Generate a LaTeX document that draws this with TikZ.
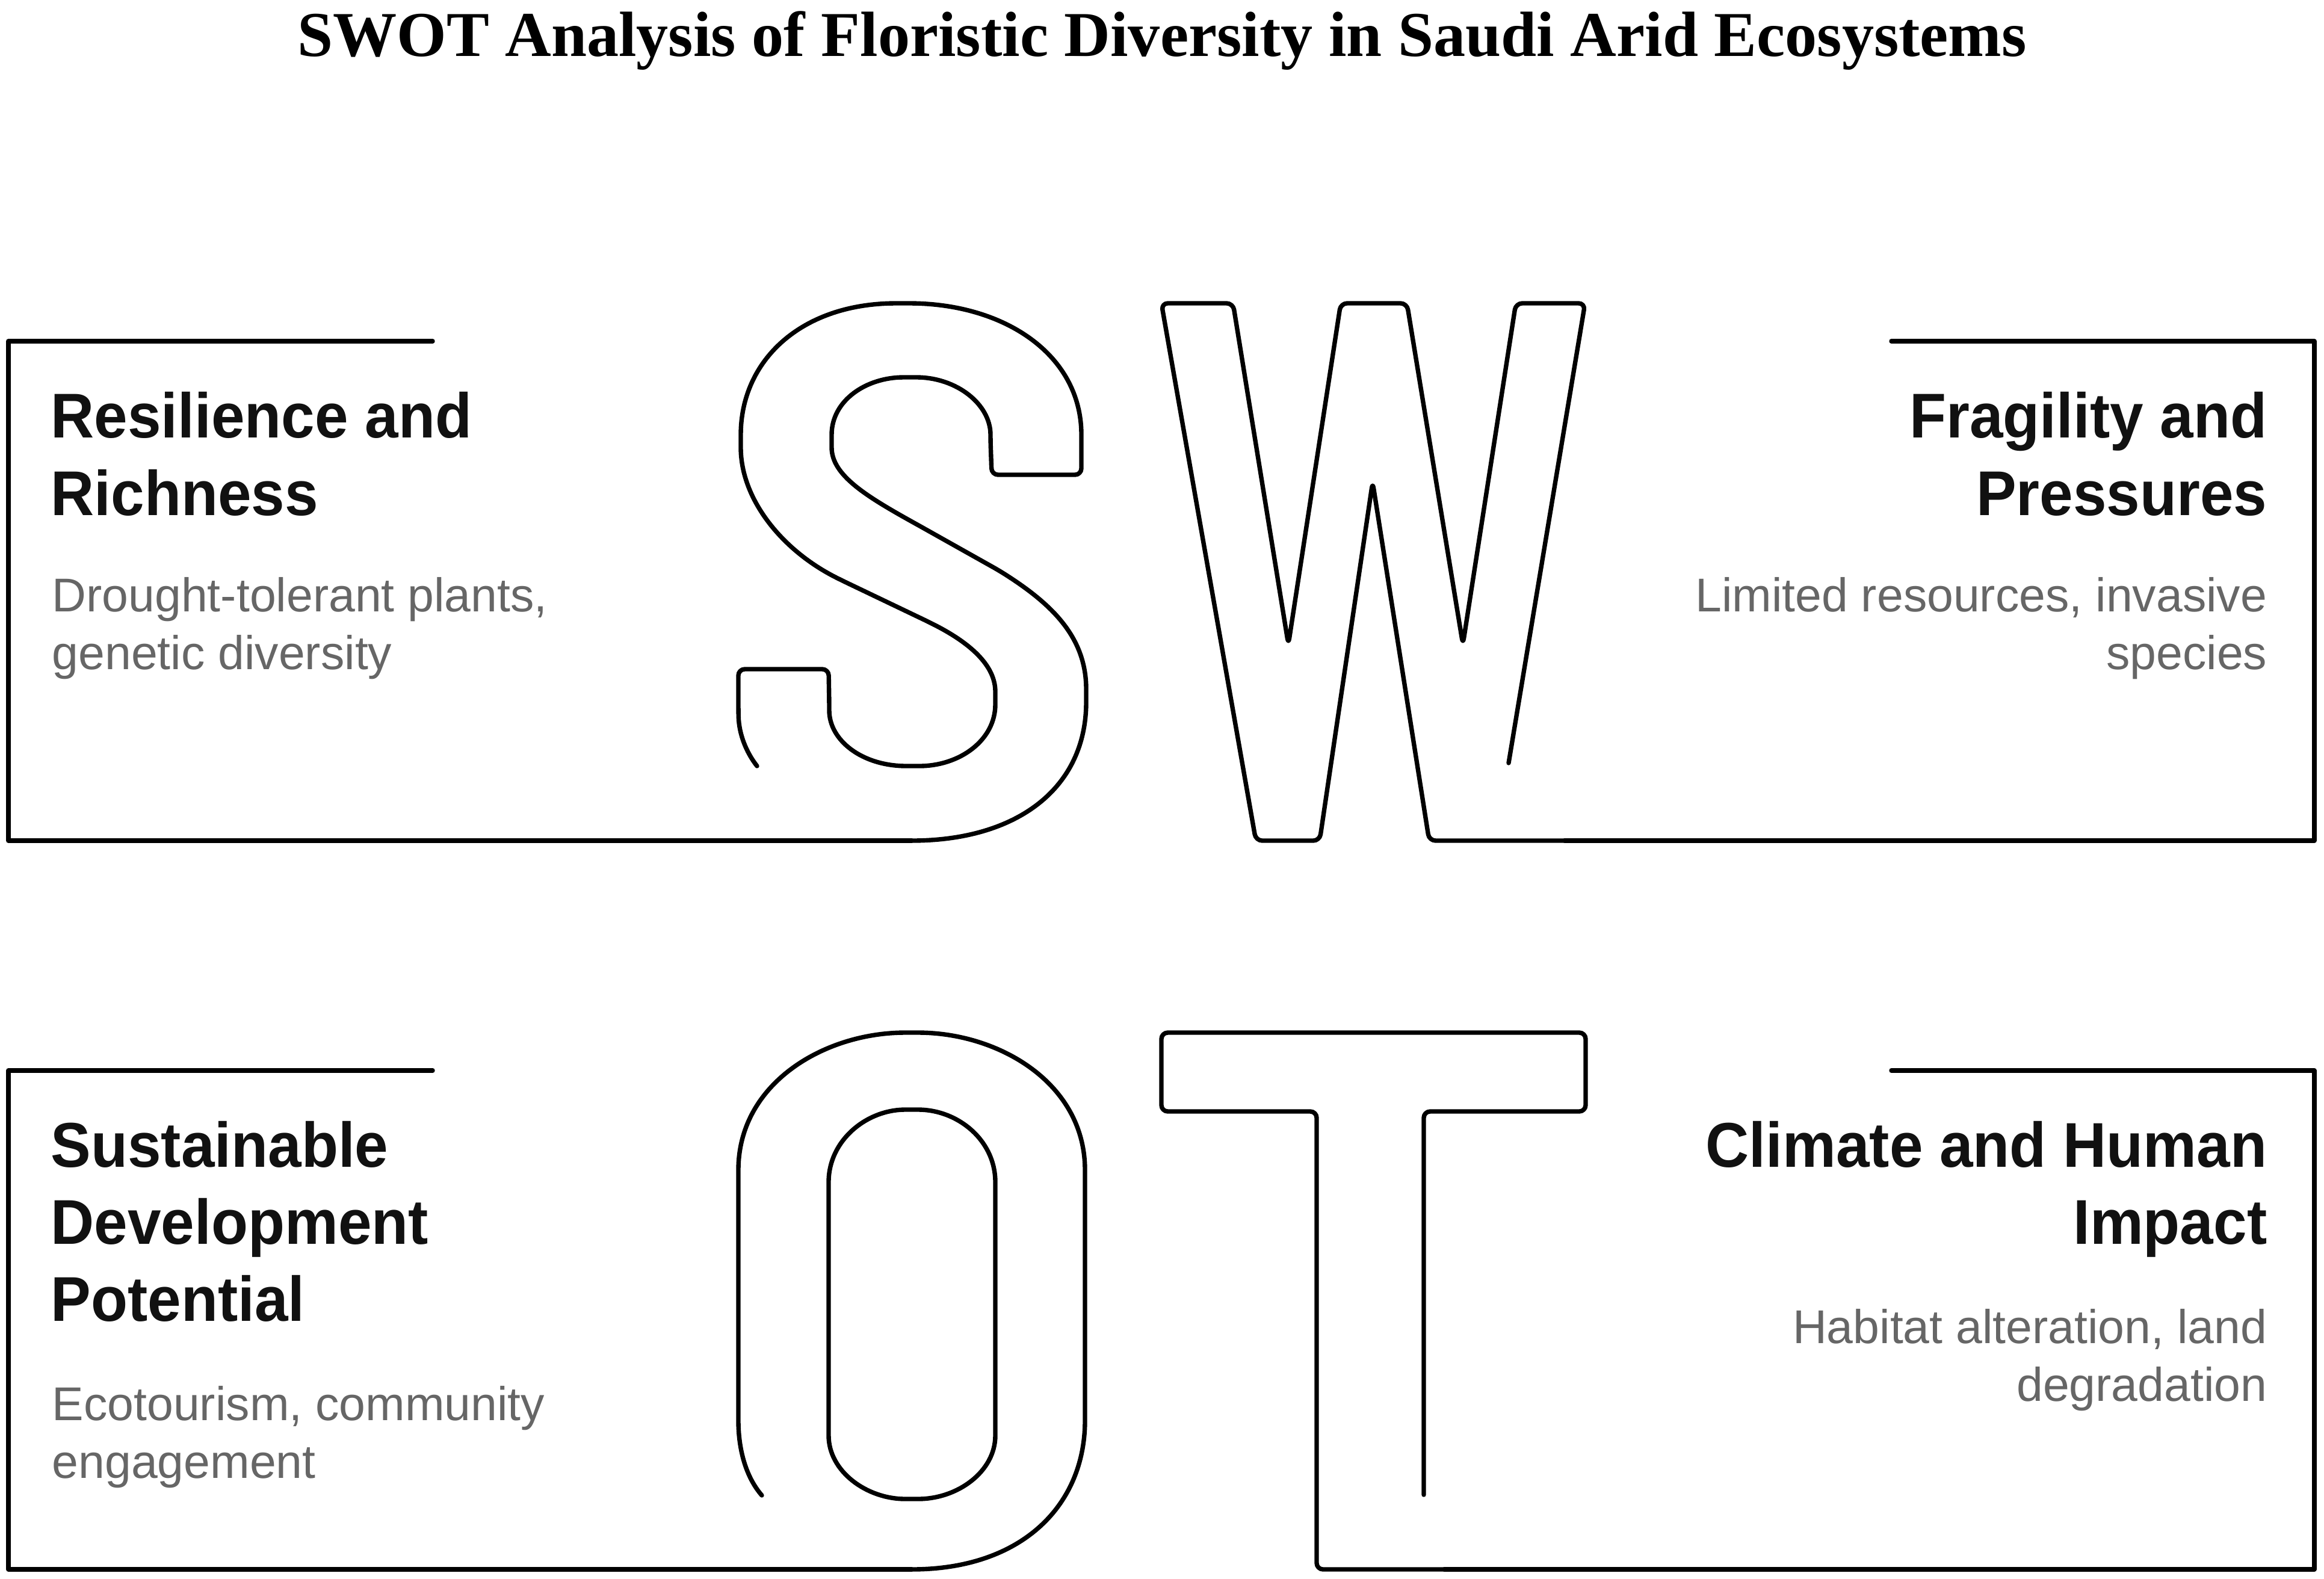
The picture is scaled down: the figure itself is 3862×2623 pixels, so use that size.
\documentclass[tikz,border=0pt]{standalone}
\usepackage{fontspec}
\setmainfont{Liberation Sans}
\newfontfamily\headfont[FakeStretch=0.95]{Liberation Sans}
\newfontfamily\descfont{Liberation Sans}
\newfontfamily\titlefont{Liberation Serif}
\definecolor{descgray}{HTML}{666666}
\definecolor{headblack}{HTML}{111111}
\begin{document}
\begin{tikzpicture}[x=0.01cm,y=-0.01cm,
  outline/.style={line width=2.1pt, line join=round, line cap=round},
  letter/.style={outline, rounded corners=3pt},
  head/.style={font=\headfont\bfseries\fontsize{29.9pt}{36pt}\selectfont, inner sep=0pt, text=headblack},
  desc/.style={font=\descfont\fontsize{22.4pt}{27pt}\selectfont, inner sep=0pt, text=descgray},
  ttl/.style={font=\titlefont\bfseries\fontsize{30.2pt}{36pt}\selectfont, inner sep=0pt}]
\useasboundingbox (0,0) rectangle (3862,2623);

% title
\node[ttl, anchor=base] (title) at (1931,93) {SWOT Analysis of Floristic Diversity in Saudi Arid Ecosystems};

% ---------- S quadrant ----------
\draw[outline] (719,567) -- (14,567) -- (14,1397) -- (1515,1397);
\draw[letter] (1515,1397) .. controls (1690,1397) and (1805,1310) .. (1805,1156)
  .. controls (1805,1060) and (1750,1005) .. (1660,948)
  -- (1530,875)
  .. controls (1440,825) and (1382,790) .. (1382,733)
  .. controls (1382,665) and (1440,627) .. (1512,627)
  .. controls (1590,627) and (1646,672) .. (1646,733)
  -- (1648,789) -- (1797,789) -- (1797,733)
  .. controls (1797,590) and (1670,504) .. (1500,504)
  .. controls (1330,504) and (1231,600) .. (1231,733)
  .. controls (1231,830) and (1300,915) .. (1400,965)
  -- (1540,1032)
  .. controls (1620,1072) and (1654,1110) .. (1654,1160)
  .. controls (1654,1230) and (1595,1273) .. (1517,1273)
  .. controls (1432,1273) and (1378,1230) .. (1378,1170)
  -- (1377,1112) -- (1227,1112) -- (1227,1180)
  .. controls (1228,1220) and (1240,1250) .. (1258,1273);

% ---------- W quadrant ----------
\draw[letter] (2507,1268) -- (2634,504) -- (2519,504) -- (2431,1071) -- (2338,504)
  -- (2228,504) -- (2141,1071) -- (2049,504) -- (1930,504) -- (2087,1397)
  -- (2193,1397) -- (2281,801) -- (2375,1397) -- (2600,1397);
\draw[outline] (2600,1397) -- (3846,1397) -- (3846,567) -- (3143,567);

% ---------- O quadrant ----------
\draw[outline] (719,1779) -- (14,1779) -- (14,2608) -- (1515,2608);
\draw[letter] (1515,2608) .. controls (1700,2608) and (1803,2500) .. (1803,2350)
  -- (1803,1955)
  .. controls (1803,1800) and (1660,1716) .. (1515,1716)
  .. controls (1370,1716) and (1227,1800) .. (1227,1955)
  -- (1227,2350)
  .. controls (1227,2410) and (1240,2455) .. (1266,2485);
\draw[letter] (1377,1975) .. controls (1377,1895) and (1440,1844) .. (1515,1844)
  .. controls (1592,1844) and (1654,1895) .. (1654,1975)
  -- (1654,2375)
  .. controls (1654,2445) and (1592,2491) .. (1515,2491)
  .. controls (1440,2491) and (1377,2445) .. (1377,2375) -- cycle;

% ---------- T quadrant ----------
\draw[letter] (2366,2484) -- (2366,1847) -- (2635,1847) -- (2635,1716) -- (1930,1716)
  -- (1930,1847) -- (2188,1847) -- (2188,2608) -- (2400,2608);
\draw[outline] (2400,2608) -- (3846,2608) -- (3846,1779) -- (3143,1779);

% ---------- texts ----------
\node[head, anchor=base west] (s1) at (84,727) {Resilience and};
\node[head, anchor=base west] (s2) at (84,856) {Richness};
\node[desc, anchor=base west] (sd1) at (86,1016) {Drought-tolerant plants,};
\node[desc, anchor=base west] (sd2) at (86,1112) {genetic diversity};

\node[head, anchor=base east] (w1) at (3768,727) {Fragility and};
\node[head, anchor=base east] (w2) at (3768,856) {Pressures};
\node[desc, anchor=base east] (wd1) at (3768,1016) {Limited resources, invasive};
\node[desc, anchor=base east] (wd2) at (3768,1112) {species};

\node[head, anchor=base west] (o1) at (84,1939) {Sustainable};
\node[head, anchor=base west] (o2) at (84,2067) {Development};
\node[head, anchor=base west] (o3) at (84,2195) {Potential};
\node[desc, anchor=base west] (od1) at (86,2360) {Ecotourism, community};
\node[desc, anchor=base west] (od2) at (86,2456) {engagement};

\node[head, anchor=base east] (t1) at (3768,1939) {Climate and Human};
\node[head, anchor=base east] (t2) at (3768,2067) {Impact};
\node[desc, anchor=base east] (td1) at (3768,2232) {Habitat alteration, land};
\node[desc, anchor=base east] (td2) at (3768,2328) {degradation};
\end{tikzpicture}
\end{document}
